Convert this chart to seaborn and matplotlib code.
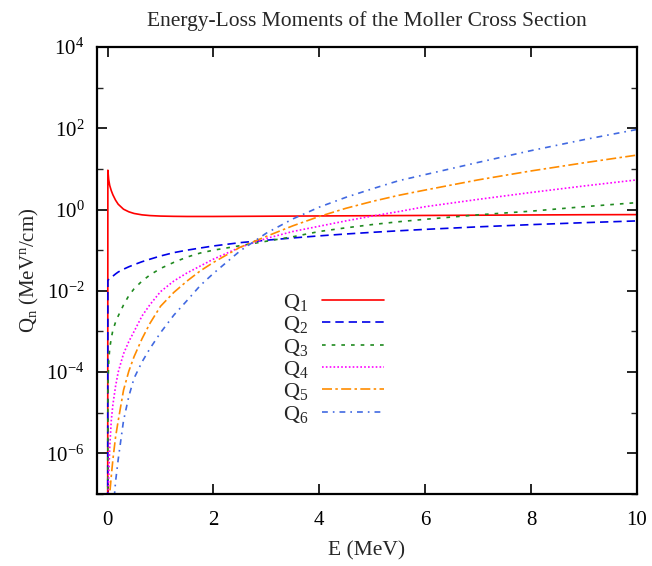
import numpy as np
import pandas as pd
import matplotlib
matplotlib.use("Agg")
import matplotlib.pyplot as plt
import seaborn as sns
from matplotlib.ticker import LogFormatterMathtext, NullFormatter

# energy grid (MeV) and moments
energy = [0, 0.005, 0.02, 0.04, 0.07, 0.1, 0.15, 0.2, 0.3, 0.4, 0.5, 0.65, 0.8,
          1.0, 1.25, 1.5, 1.75, 2.0, 2.5, 3.0, 3.5, 4.0, 4.5, 5.0, 5.5, 6.0,
          7.0, 8.0, 9.0, 10.0]

q1 = [1e-12, 9.3, 5.5, 3.9, 2.9, 2.3, 1.7, 1.35, 1.02, 0.88, 0.80, 0.74, 0.71,
      0.69, 0.68, 0.675, 0.675, 0.675, 0.68, 0.685, 0.69, 0.695, 0.70, 0.705,
      0.71, 0.715, 0.725, 0.735, 0.745, 0.75]
q2 = [1e-12, 0.018, 0.019, 0.020, 0.022, 0.023, 0.026, 0.029, 0.034, 0.039,
      0.044, 0.052, 0.060, 0.072, 0.087, 0.100, 0.113, 0.127, 0.153, 0.176,
      0.20, 0.225, 0.25, 0.275, 0.30, 0.325, 0.375, 0.425, 0.475, 0.525]
# log10 of Q3..Q6
lq3 = [-12, -4.4, -3.75, -3.42, -3.16, -2.97, -2.77, -2.62, -2.35, -2.12,
       -1.95, -1.76, -1.61, -1.45, -1.30, -1.17, -1.07, -1.00, -0.89, -0.78,
       -0.67, -0.54, -0.45, -0.37, -0.30, -0.24, -0.13, -0.04, 0.07, 0.17]
lq4 = [-12, -7.8, -6.6, -5.85, -5.18, -4.8, -4.35, -4.0, -3.55, -3.25, -3.0,
       -2.62, -2.34, -2.02, -1.76, -1.56, -1.39, -1.22, -0.93, -0.71, -0.54,
       -0.41, -0.28, -0.16, -0.05, 0.07, 0.25, 0.42, 0.58, 0.73]
lq5 = [-12, -10, -7.8, -7.0, -6.55, -6.15, -5.6, -5.2, -4.45, -3.98, -3.62,
       -3.18, -2.80, -2.38, -2.04, -1.76, -1.51, -1.30, -0.93, -0.66, -0.40,
       -0.17, 0.03, 0.20, 0.35, 0.48, 0.73, 0.95, 1.15, 1.34]
lq6 = [-12, -12, -10, -9.0, -8.1, -7.5, -6.7, -6.15, -5.2, -4.6, -4.15,
       -3.75, -3.42, -3.03, -2.60, -2.24, -1.87, -1.57, -1.02, -0.58, -0.23,
       0.06, 0.30, 0.51, 0.71, 0.86, 1.16, 1.45, 1.72, 1.97]

labels = [r"Q$_1$", r"Q$_2$", r"Q$_3$", r"Q$_4$", r"Q$_5$", r"Q$_6$"]
colors = ["#ff0000", "#0000e8", "#1f8a1f", "#ff00ff", "#ff8c00", "#4169e1"]
styles = ["-", (0, (5, 3)), (0, (2.2, 3.6)), (0, (1, 1.3)),
          (0, (6, 2, 1.5, 2)), (0, (3.5, 3, 1, 3))]

df = pd.DataFrame({"E": energy, "Q1": q1, "Q2": q2,
                   "Q3": 10.0 ** np.array(lq3), "Q4": 10.0 ** np.array(lq4),
                   "Q5": 10.0 ** np.array(lq5), "Q6": 10.0 ** np.array(lq6)})

sns.set_theme(style="ticks")
plt.rcParams["font.family"] = ["Liberation Serif", "DejaVu Serif"]
plt.rcParams["mathtext.fontset"] = "custom"
plt.rcParams["mathtext.rm"] = "Liberation Serif"
plt.rcParams["mathtext.it"] = "Liberation Serif:italic"
plt.rcParams["axes.unicode_minus"] = False

fig = plt.figure(figsize=(6.52, 5.66), dpi=100)
ax = fig.add_axes([0.1488, 0.1272, 0.8282, 0.7898])
ax.set_yscale("log")

for i, col in enumerate(["Q1", "Q2", "Q3", "Q4", "Q5", "Q6"]):
    sns.lineplot(data=df, x="E", y=col, ax=ax, color=colors[i],
                 linestyle=styles[i], linewidth=1.2, label=labels[i])

ax.set_xlim(-0.2, 10)
ax.set_ylim(1e-7, 1e4)
ax.set_xticks([0, 2, 4, 6, 8, 10])
ax.set_yticks([1e-6, 1e-4, 1e-2, 1e0, 1e2, 1e4])
ax.set_yticks([1e-7, 1e-5, 1e-3, 1e-1, 1e1, 1e3], minor=True)
ax.yaxis.set_major_formatter(LogFormatterMathtext())
ax.yaxis.set_minor_formatter(NullFormatter())
ax.tick_params(which="major", direction="in", length=7, width=1.2,
               top=True, right=True, labelsize=15, colors="black")
ax.tick_params(axis="x", which="major", pad=12)
ax.tick_params(axis="y", which="major", pad=9)
ax.tick_params(which="minor", direction="in", length=4, width=1.0,
               top=False, right=True)
for sp in ax.spines.values():
    sp.set_linewidth(1.6)
    sp.set_color("black")

ax.set_title("Energy-Loss Moments of the Moller Cross Section", fontsize=15.5, pad=15)
ax.set_xlabel("E (MeV)", fontsize=15.5, labelpad=8)
ax.set_ylabel(r"Q$_\mathrm{n}$ (MeV$^\mathrm{n}$/cm)", fontsize=15, labelpad=4)

ax.legend(loc="upper right", bbox_to_anchor=(0.56, 0.487), frameon=False,
          markerfirst=False, handlelength=2.8, fontsize=16, labelspacing=0.06,
          handletextpad=0.6, borderpad=0.2)

fig.savefig("out.png", dpi=100)
